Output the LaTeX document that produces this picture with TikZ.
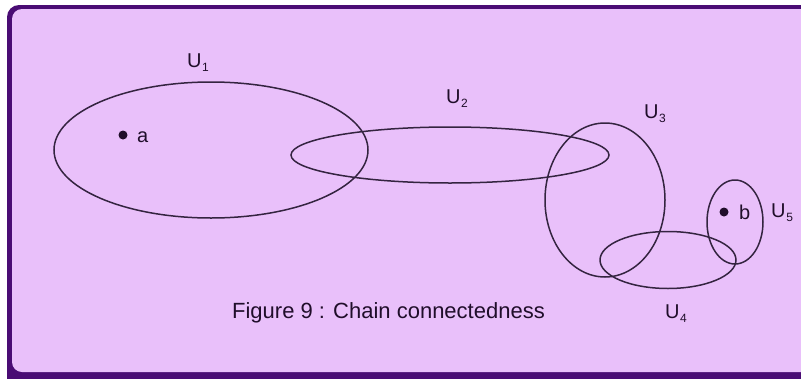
\documentclass[tikz,border=0pt]{standalone}
\usepackage{fontspec}
\setmainfont{Liberation Sans}
\definecolor{bgfill}{RGB}{233,192,250}
\definecolor{frame}{RGB}{74,12,116}
\definecolor{ink}{RGB}{32,14,42}
\definecolor{curve}{RGB}{52,36,64}
\newcommand\Ulab[1]{U\kern0.6pt\raisebox{-0.45ex}{\fontsize{12}{12}\selectfont #1}}
\tikzset{
  setcurve/.style={draw=curve, line width=1.5pt},
  lab/.style={anchor=base west, inner sep=0pt, text=ink, font=\fontsize{20}{24}\selectfont},
  pt/.style={fill=ink, draw=none},
}
\begin{document}
\begin{tikzpicture}[x=1pt,y=-1pt]
\useasboundingbox (0,0) rectangle (801,378);
\fill[white] (0,0) rectangle (801,378);
\fill[frame, rounded corners=12pt] (7,5) rectangle (820,395);
\fill[bgfill, rounded corners=10pt] (12,9) rectangle (815,372);
% sets
\draw[setcurve] (211,150) ellipse [x radius=157, y radius=68];
\draw[setcurve] (450,155) ellipse [x radius=159, y radius=28];
\draw[setcurve] (605,200) ellipse [x radius=60, y radius=77];
\draw[setcurve] (668,260) ellipse [x radius=68, y radius=28.5];
\draw[setcurve] (735,222) ellipse [x radius=28, y radius=42];
% points
\fill[pt] (123,135) circle (4.5);
\node[lab] (la) at (137,142) {a};
\fill[pt] (724,212) circle (4.5);
\node[lab] (lb) at (739,219) {b};
% labels
\node[lab] (l1) at (187,67) {\Ulab{1}};
\node[lab] (l2) at (446,103) {\Ulab{2}};
\node[lab] (l3) at (644,118) {\Ulab{3}};
\node[lab] (l4) at (665,318) {\Ulab{4}};
\node[lab] (l5) at (771,217) {\Ulab{5}};
\node[anchor=base, inner sep=0pt, text=ink, font=\fontsize{22}{26}\selectfont] (cap) at (388.5,318) {Figure 9 : Chain connectedness};
\end{tikzpicture}
\end{document}
